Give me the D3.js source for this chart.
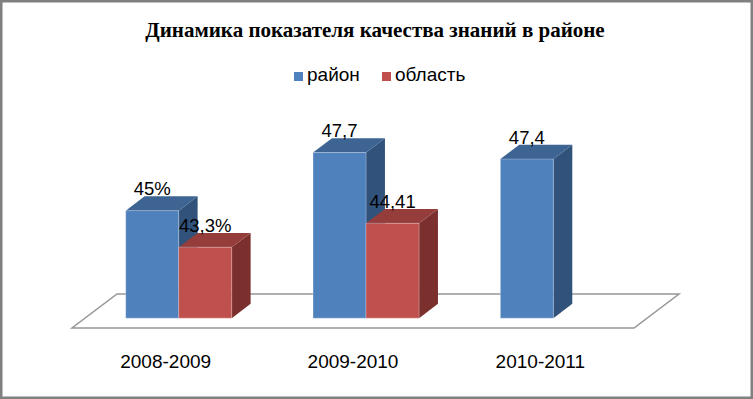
<!DOCTYPE html>
<html>
<head>
<meta charset="utf-8">
<script src="https://cdn.jsdelivr.net/npm/d3@7"></script>
<style>
  body { margin: 0; background: #fff; }
  svg { display: block; }
</style>
</head>
<body>
<svg></svg>
<script>
let categories = ['2008-2009', '2009-2010', '2010-2011']
let seriesNames = ['район', 'область']
let rayonValues = [45, 47.7, 47.4]
let oblastValues = [43.3, 44.41, null]
let rayonLabels = ['45%', '47,7', '47,4']
let oblastLabels = ['43,3%', '44,41', '']

let width = 753
let height = 399

let colors = {
  'район': { front: '#4F81BD', top: '#3D6492', side: '#31527A' },
  'область': { front: '#C0504D', top: '#953D3B', side: '#7B302E' }
}

// floor depth offsets (back edge relative to front edge)
let depthX = 45
let depthY = -34
let zFront = 0.29
let zBack = 0.71

let svg = d3.select('svg')
  .attr('width', width)
  .attr('height', height)

let project = (x, y, z) => [x + depthX * z, y + depthY * z]

let xScale = d3.scaleBand()
  .domain(categories)
  .range([72, 634])
  .paddingInner(0.434)
  .paddingOuter(0.217)

let xSub = d3.scaleBand()
  .domain(seriesNames)
  .range([0, xScale.bandwidth()])

let yScale = d3.scaleLinear()
  .domain([40, 50])
  .range([328, 113])

let rows = []
categories.forEach((c, i) => {
  rows.push({ cat: c, series: 'район', value: rayonValues[i], label: rayonLabels[i] })
  if (oblastValues[i] != null) {
    rows.push({ cat: c, series: 'область', value: oblastValues[i], label: oblastLabels[i] })
  }
})

// frame
svg.append('rect')
  .attr('x', 1.25).attr('y', 1.25)
  .attr('width', width - 2.5).attr('height', height - 2.5)
  .attr('fill', '#fff')
  .attr('stroke', '#808080')
  .attr('stroke-width', 2.5)

// title
svg.append('text')
  .attr('x', 375)
  .attr('y', 37)
  .attr('text-anchor', 'middle')
  .attr('font-family', '"Liberation Serif", "Times New Roman", serif')
  .attr('font-weight', 'bold')
  .attr('font-size', 21)
  .text('Динамика показателя качества знаний в районе')

// legend
let legend = svg.append('g').attr('font-family', '"Liberation Sans", Arial, sans-serif').attr('font-size', 19)
let legendX = [294, 382]
seriesNames.forEach((s, i) => {
  legend.append('rect')
    .attr('x', legendX[i]).attr('y', 72)
    .attr('width', 9).attr('height', 9)
    .attr('fill', colors[s].front)
  legend.append('text')
    .attr('x', legendX[i] + 13).attr('y', 81)
    .text(s)
})

// floor
let x0 = xScale.range()[0]
let x1 = xScale.range()[1]
let yBase = yScale(40)
let floorPts = [project(x0, yBase, 0), project(x1, yBase, 0), project(x1, yBase, 1), project(x0, yBase, 1)]
svg.append('polygon')
  .attr('points', floorPts.map(p => p.join(',')).join(' '))
  .attr('fill', '#fff')
  .attr('stroke', '#969696')
  .attr('stroke-width', 1.5)

// bars
let bars = svg.selectAll('g.bar')
  .data(rows)
  .enter()
  .append('g')
  .attr('class', 'bar')

let barPts = d => {
  let left = xScale(d.cat) + xSub(d.series)
  let right = left + xSub.bandwidth()
  let top = yScale(d.value)
  return { left, right, top, bottom: yBase }
}

bars.append('polygon')
  .attr('fill', d => colors[d.series].side)
  .attr('points', d => {
    let b = barPts(d)
    return [project(b.right, b.bottom, zFront), project(b.right, b.top, zFront),
      project(b.right, b.top, zBack), project(b.right, b.bottom, zBack)].map(p => p.join(',')).join(' ')
  })

bars.append('polygon')
  .attr('fill', d => colors[d.series].top)
  .attr('points', d => {
    let b = barPts(d)
    return [project(b.left, b.top, zFront), project(b.right, b.top, zFront),
      project(b.right, b.top, zBack), project(b.left, b.top, zBack)].map(p => p.join(',')).join(' ')
  })

bars.append('polygon')
  .attr('fill', d => colors[d.series].front)
  .attr('stroke', 'rgba(255,255,255,0.35)')
  .attr('stroke-width', 0.8)
  .attr('points', d => {
    let b = barPts(d)
    return [project(b.left, b.bottom, zFront), project(b.right, b.bottom, zFront),
      project(b.right, b.top, zFront), project(b.left, b.top, zFront)].map(p => p.join(',')).join(' ')
  })

// value labels
svg.selectAll('text.value')
  .data(rows)
  .enter()
  .append('text')
  .attr('class', 'value')
  .attr('text-anchor', 'middle')
  .attr('font-family', '"Liberation Sans", Arial, sans-serif')
  .attr('font-size', 18.5)
  .attr('fill', '#000')
  .attr('x', d => {
    let b = barPts(d)
    return project((b.left + b.right) / 2, b.top, zFront)[0]
  })
  .attr('y', d => {
    let b = barPts(d)
    return project(b.left, b.top, zBack)[1] - 1
  })
  .text(d => d.label)

// category axis labels
let xAxis = d3.axisBottom(xScale).tickSize(0).tickPadding(0)
let axisG = svg.append('g')
  .attr('transform', 'translate(0,' + (yBase + 26) + ')')
  .call(xAxis)
axisG.select('.domain').remove()
axisG.selectAll('text')
  .attr('font-family', '"Liberation Sans", Arial, sans-serif')
  .attr('font-size', 19)
  .attr('fill', '#000')
  .attr('dy', '0.71em')
</script>
</body>
</html>
